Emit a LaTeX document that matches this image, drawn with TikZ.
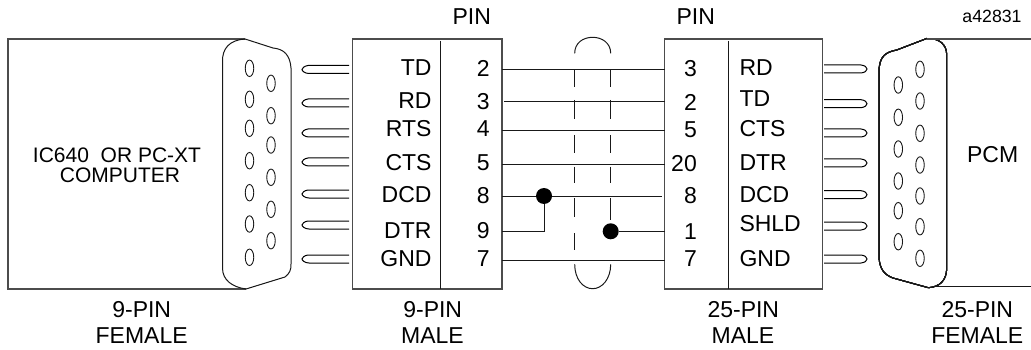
\documentclass[tikz,border=0pt]{standalone}
\usepackage{fontspec}
\setmainfont{Liberation Sans}
\usetikzlibrary{shapes.geometric}
\tikzset{
  line/.style={draw=black!90, line width=1pt},
  heavy/.style={draw=black!70, line width=1.3pt},
  stubline/.style={draw=black, line width=1pt},
  txt/.style={inner sep=0pt, font=\fontsize{23}{25}\selectfont},
  lbl/.style={txt, anchor=center},
  lblr/.style={txt, anchor=east},
  lbll/.style={txt, anchor=west},
  pinhole/.style={ellipse, draw=black!90, line width=0.9pt, minimum width=8.5pt, minimum height=16.5pt, inner sep=0pt},
  junction/.style={circle, fill=black, minimum size=16pt, inner sep=0pt},
}
\newcommand{\stubL}[1]{\draw[stubline] (349,#1-4) -- (308,#1-4) .. controls (304,#1-3.5) and (302,#1-1) .. (302,#1) .. controls (302,#1+1.5) and (305,#1+4) .. (309,#1+4) -- (349,#1+4);}
\newcommand{\stubR}[1]{\draw[stubline] (824,#1-4) -- (861,#1-4) .. controls (869,#1-3) and (869,#1+3) .. (861,#1+4) -- (824,#1+4);}
\begin{document}
\begin{tikzpicture}[x=1pt,y=-1pt]
\useasboundingbox (0,0) rectangle (1031,350);
% left box
\draw[heavy] (245,39) -- (8,39) -- (8,289) -- (246,289);
\draw[line] (245,39) .. controls (230,40) and (222,48) .. (222.5,62) -- (222.5,268) .. controls (222.5,280) and (232,287) .. (246,289) -- (285,277) .. controls (290,273) and (291,270) .. (291,264) -- (291,68) .. controls (290,55) and (284,49) .. (273,48) -- cycle;
\foreach \y [count=\i] in {68.3,99.3,128.3,160.7,192.7,224,257.3} \node[pinhole] (la\i) at (249.5,\y) {};
\foreach \y [count=\i] in {83.3,115.7,145,177.3,209.3,240.7} \node[pinhole] (lb\i) at (271,\y) {};
\foreach \y in {69.5,103,133,162,194,225,259} \stubL{\y}
% second box
\draw[heavy] (352.7,39) rectangle (502,289);
\draw[line] (440.3,41) -- (440.3,289);
\foreach \t/\y in {TD/67.7,RD/100.7,RTS/128.3,CTS/162.7,DCD/195,DTR/230.7,GND/259} \node[lblr] (n\t) at (431.7,\y) {\t};
\foreach \t/\y/\n in {2/68/a,3/101.7/b,4/129/c,5/163/d,8/195.7/e,9/230.7/f,7/259/g} \node[lbl] (p\n) at (483.3,\y) {\t};
% third box
\draw[heavy] (664.7,39) -- (822.3,39) -- (822.3,289) -- (664.7,289) -- cycle;
\draw[line] (728.7,41) -- (728.7,289);
\foreach \t/\y/\n in {3/68.3/a,2/102.3/b,5/130/c,20/163.3/d,8/195.7/e,1/231.7/f,7/259/g} \node[lblr] (q\n) at (697,\y) {\t};
\foreach \t/\y in {RD/67.7,TD/99,CTS/128.3,DTR/162.7,DCD/195,SHLD/224,GND/259} \node[lbll] (m\t) at (739.3,\y) {\t};
% wires
\coordinate (w1l) at (502,69.7); \coordinate (w1r) at (664.7,69.7);
\coordinate (w2l) at (504,101.3); \coordinate (w2r) at (664.7,101.3);
\coordinate (w3l) at (502,130.3); \coordinate (w3r) at (664.7,130.3);
\coordinate (w4l) at (502,165); \coordinate (w4r) at (664.7,165);
\coordinate (w5l) at (502,196); \coordinate (w5r) at (662.3,196);
\coordinate (w6l) at (502,231.3); \coordinate (w6r) at (664.7,231.3);
\coordinate (w7l) at (502,260); \coordinate (w7r) at (664.7,260);
\foreach \i in {1,2,3,4,5,7} \draw[line] (w\i l) -- (w\i r);
\node[junction] (j1) at (544,196) {};
\node[junction] (j2) at (610.7,231.3) {};
\draw[line] (w5l) -- (j1) -- (w5r);
\draw[line] (w6l) -- (j1 |- w6l) -- (j1);
\draw[line] (j2) -- (w6r);
% shield
\foreach \a/\b in {70/86.7,100/118.7,135/153,166.7/183.3,198.3/216.7,233/250} \draw[line] (574.7,\a) -- (574.7,\b);
\foreach \a/\b in {70/86.7,100/118.7,135/153,166.7/183.3,198.3/220} \draw[line] (610.7,\a) -- (610.7,\b);
\draw[line] (574.7,53.3) .. controls (574.7,43) and (583,37.3) .. (592.7,37.3) .. controls (602,37.3) and (610.7,43) .. (610.7,53.3);
\draw[line] (574.7,264.3) .. controls (574.7,279) and (583,288.7) .. (592.7,288.7) .. controls (602,288.7) and (610.7,279) .. (610.7,264.3);
% right stubs
\foreach \y in {69,103.7,133,163,194.7,226,259} \stubR{\y}
% right connector
\draw[line] (926.7,38.5) -- (896.7,50) .. controls (886,52) and (879,56) .. (879,72) -- (879,258) .. controls (880,270) and (885,275) .. (893,278) -- (928.3,287.7) .. controls (940,287) and (946.7,280) .. (946.7,268) -- (946.7,55) .. controls (946.7,45) and (940,38) .. (926.7,38.5) -- cycle;
\draw[heavy] (927,39) -- (1031,39);
\draw[line] (933,286.7) -- (1031,286.7);
\foreach \y [count=\i] in {69.3,101,133.3,165,196,226.7,258.3} \node[pinhole] (ra\i) at (920,\y) {};
\foreach \y [count=\i] in {85,117.3,149,181,210.7,241.7} \node[pinhole] (rb\i) at (898.3,\y) {};
% text
\node[lbl] (pcm) at (992.7,155) {PCM};
\node[lbl, font=\fontsize{21}{23}\selectfont] (ic) at (117,155) {IC640\ \ OR PC-XT};
\node[lbl, font=\fontsize{21}{23}\selectfont] (comp) at (120,175) {COMPUTER};
\node[lbl] (pin1) at (471.7,16.7) {PIN};
\node[lbl] (pin2) at (695.7,16.7) {PIN};
\node[lbl, font=\fontsize{17.7}{20}\selectfont] (ref) at (992,16.7) {a42831};
\node[lbl] (f1a) at (141.7,310) {9-PIN};
\node[lbl] (f1b) at (141.7,336) {FEMALE};
\node[lbl] (f2a) at (432.7,310) {9-PIN};
\node[lbl] (f2b) at (432.5,336) {MALE};
\node[lbl] (f3a) at (743.3,310) {25-PIN};
\node[lbl] (f3b) at (743,336) {MALE};
\node[lbl] (f4a) at (977.3,310) {25-PIN};
\node[lbl] (f4b) at (977.3,336) {FEMALE};
\end{tikzpicture}
\end{document}
